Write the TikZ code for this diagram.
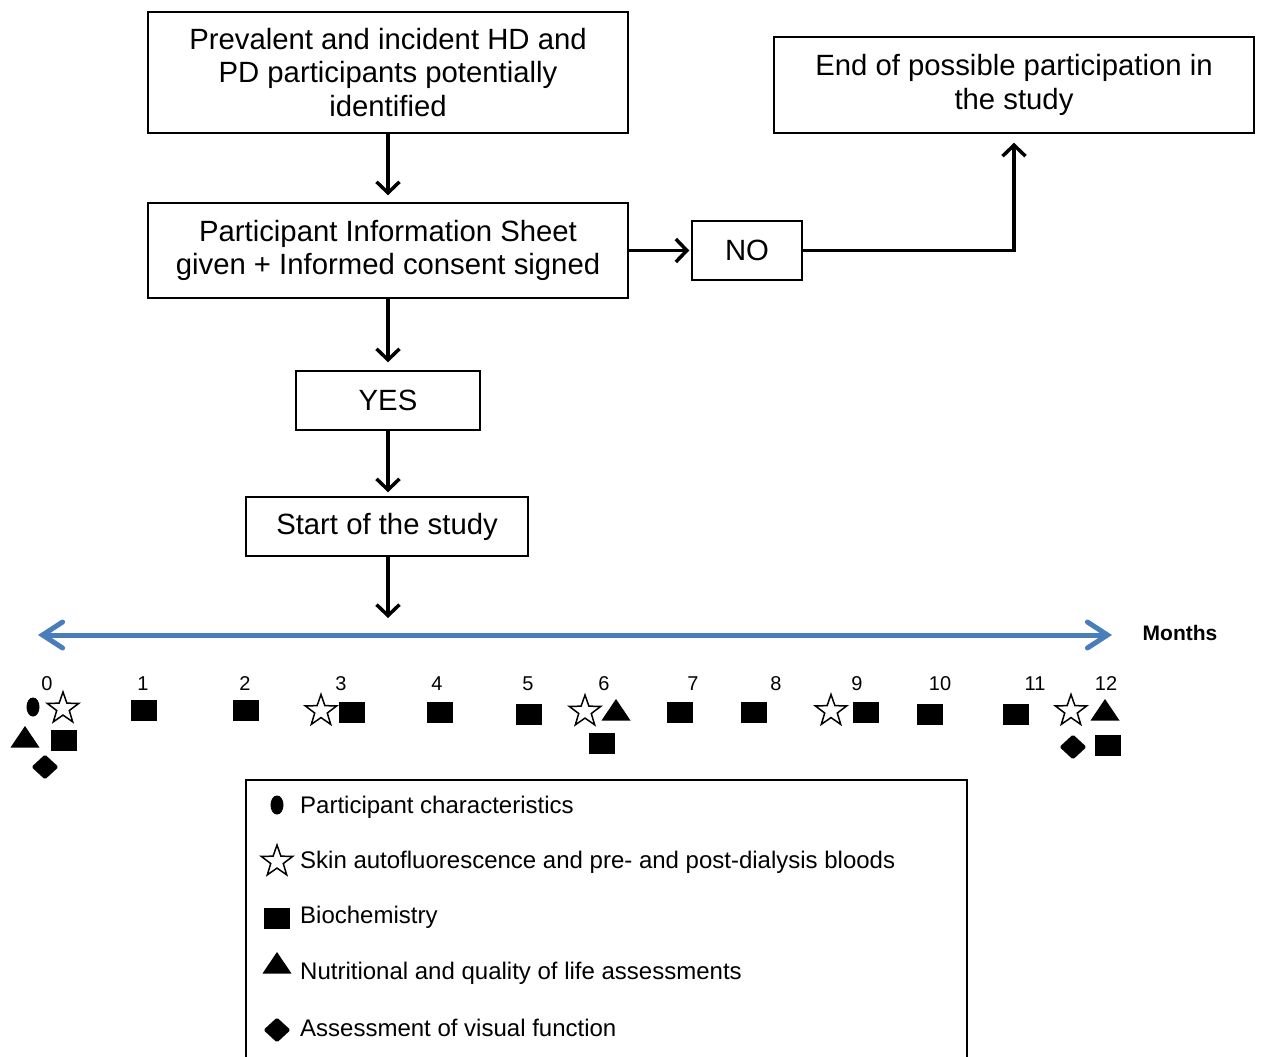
\documentclass[tikz,border=0pt]{standalone}
\usepackage{fontspec}
\setmainfont{Liberation Sans}
\usetikzlibrary{arrows.meta,shapes.geometric}
\definecolor{tlblue}{RGB}{74,126,187}
\begin{document}
\begin{tikzpicture}[x=1pt,y=-1pt,
  box/.style={draw, line width=1.5pt, align=center, inner sep=0pt,
    font=\fontsize{29.3}{33.5}\selectfont},
  conn/.style={line width=3.5pt, -{Straight Barb[length=11pt,width=23pt]}},
  num/.style={font=\fontsize{20}{24}\selectfont, inner sep=0pt},
  legtext/.style={font=\fontsize{24}{28}\selectfont, anchor=west, inner sep=0pt},
  sq/.pic={\fill (-13,-10.5) rectangle (13,10.5);},
  tri/.pic={\fill (-14.5,10.5) -- (14.5,10.5) -- (0,-11) -- cycle;},
  dia/.pic={\fill[rounded corners=1.5pt] (-13.5,0) -- (0,-12.5) -- (13.5,0) -- (0,12.5) -- cycle;},
  ell/.pic={\fill (0,0) ellipse [x radius=6.5, y radius=9.5];},
  st/.pic={\draw[line width=1.5pt, line join=miter, fill=white]
     (0,-16.5) -- (3.88,-5.34) -- (15.69,-5.10) -- (6.28,2.04) -- (9.70,13.35)
     -- (0,6.6) -- (-9.70,13.35) -- (-6.28,2.04) -- (-15.69,-5.10) -- (-3.88,-5.34) -- cycle;}
]
\useasboundingbox (0,0) rectangle (1264,1057);

% flow boxes
\node[box, minimum width=480pt, minimum height=121pt] (b1) at (388,72.5)
  {\raisebox{-2pt}{\parbox{470pt}{\centering Prevalent and incident HD and\\PD participants potentially\\identified}}};
\node[box, minimum width=480pt, minimum height=95pt] (b2) at (388,250.5)
  {Participant Information Sheet\\given + Informed consent signed};
\node[box, minimum width=110pt, minimum height=59pt] (no) at (747,250.5) {NO};
\node[box, minimum width=480pt, minimum height=96pt] (end) at (1014,85)
  {End of possible participation in\\the study};
\node[box, minimum width=184pt, minimum height=59pt] (yes) at (388,400.5) {YES};
\node[box, minimum width=282pt, minimum height=59pt] (start) at (387,526.5) {Start of the study};
\coordinate (tltop) at (388,618);

\draw[conn, shorten >=7pt] (b1) -- (b2);
\draw[conn, shorten >=8pt] (b2) -- (yes);
\draw[conn, shorten >=4pt] (yes.south) -- (yes.south |- start.north);
\draw[conn] (start.south -| tltop) -- (tltop);
\draw[conn, shorten >=2pt] (b2.east) -- (no.west);
\draw[conn, shorten >=9pt, line join=miter] (no.east) -| (end.south);

% timeline
\coordinate (tl) at (38,635);
\coordinate (tr) at (1112,635);
\draw[tlblue, line width=5pt, line cap=round,
  {Straight Barb[length=20pt,width=26pt,line cap=round]}-{Straight Barb[length=20pt,width=26pt,line cap=round]}]
  (tl) -- (tr);
\node[font=\bfseries\fontsize{21}{25}\selectfont, inner sep=0pt] (months) at (1180,633) {Months};

% month labels
\foreach \m/\x in {0/47,1/143,2/245,3/341,4/437,5/528,6/604,7/693,8/776,9/857,10/940,11/1035,12/1106}
  \node[num] (m\m) at (\x,684) {\m};

% symbols
\pic at (33,707) {ell};
\pic at (63,708.5) {st};
\pic at (25,737) {tri};
\pic at (64,740) {sq};
\pic at (45,767) {dia};
\pic at (144,710) {sq};
\pic at (246,710) {sq};
\pic at (321,711) {st};
\pic at (352,712) {sq};
\pic at (440,712) {sq};
\pic at (529,714) {sq};
\pic at (585,711.5) {st};
\pic at (616,710) {tri};
\pic at (602,743) {sq};
\pic at (680,712) {sq};
\pic at (754,712) {sq};
\pic at (831,711) {st};
\pic at (866,712) {sq};
\pic at (930,714) {sq};
\pic at (1016,714) {sq};
\pic at (1071,711) {st};
\pic at (1105,710) {tri};
\pic at (1073,747) {dia};
\pic at (1108,745) {sq};

% legend
\draw[line width=1.5pt] (246,1062) -- (246,780) -- (967,780) -- (967,1062);
\pic at (277,805) {ell};
\pic at (277,861.5) {st};
\pic at (277,918) {sq};
\pic at (277,963) {tri};
\pic at (277,1030) {dia};
\node[legtext] (l1) at (300,807) {Participant characteristics};
\node[legtext] (l2) at (300,862) {Skin autofluorescence and pre- and post-dialysis bloods};
\node[legtext] (l3) at (300,917) {Biochemistry};
\node[legtext] (l4) at (300,973) {Nutritional and quality of life assessments};
\node[legtext] (l5) at (300,1028) {Assessment of visual function};
\end{tikzpicture}
\end{document}
